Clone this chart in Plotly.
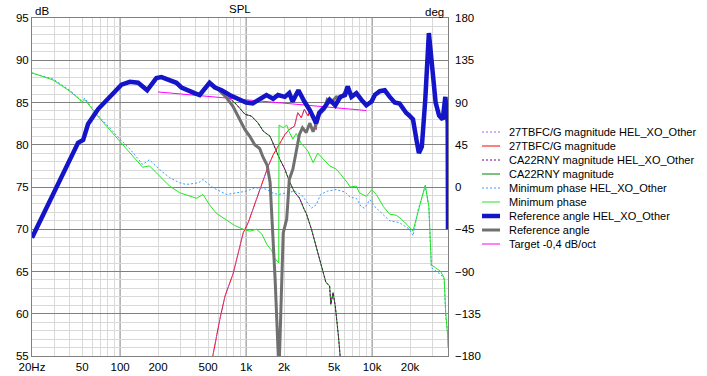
import plotly.graph_objects as go
import math

# ---------------- data ----------------
# Reference angle HEL_XO_Other (deg, right axis)
ref_xo_f = [20, 30.3, 46.4, 50.9, 55.7, 67, 82.8, 102.6, 119.5, 139, 164, 194, 213, 248, 280, 307, 356, 390, 428,
            470, 513, 566, 640, 740, 890, 1000, 1130, 1280, 1450, 1640, 1790, 2030, 2200, 2340, 2600, 2900, 3200,
            3600, 3800, 4200, 4600, 5100, 5600, 6100, 6400, 6850, 7500, 8200, 9000, 9900, 10500, 11500, 12600,
            13800, 15100, 16500, 18600, 19800, 21100, 22500, 23500, 24800, 26400, 28200, 30000, 31900, 34000,
            36300, 38100, 39200, 39800, 40000]
ref_xo_deg = [-54, -3, 47, 50, 67, 83, 96, 109, 112, 111, 103, 116, 117, 113, 111, 106, 103, 100, 98,
              105, 111, 106, 103, 98, 93, 90, 89, 93, 98, 94, 98, 96, 100, 91, 103, 91, 82,
              68, 79, 85, 93, 87, 96, 98, 107, 96, 100, 93, 87, 91, 98, 102, 103,
              96, 90, 89, 79, 76, 72, 50, 36, 43, 93, 164, 129, 90, 76,
              72, 96, 79, 68, -45]

# Reference angle (deg, right axis)
ref_f = [470, 513, 600, 700, 786, 890, 980, 1070, 1170, 1280, 1360, 1470, 1550, 1590, 1700, 1800, 1840,
         1970, 2100, 2160, 2200, 2350, 2500, 2650, 2800, 3000, 3200, 3400, 3600, 3800, 4200, 4400, 4700,
         5200, 5600, 5900, 6400]
ref_deg = [105, 111, 104, 95, 86, 72, 61, 54, 45, 41, 32, 23, 5, -24, -99, -180, -180,
           -49, -34, -10, 8, 19, 40, 56, 63, 58, 68, 59, 67, 77, 83, 93, 90,
           96, 95, 98, 107]

# Minimum phase HEL_XO_Other (deg, right axis)
mp_xo_f = [20, 29.4, 39.9, 48, 49.6, 52.6, 65, 82.7, 99.6, 119.6, 151, 171, 204, 247, 296, 335, 380, 420, 455,
           550, 700, 890, 1000, 1170, 1330, 1460, 1600, 1800, 2100, 2420, 2740, 3000, 3300, 3600, 3900, 4400,
           5200, 6100, 6700, 7500, 8200, 8700, 9600, 10500, 12300, 13800, 16500, 19800, 21100, 23200, 26400,
           28200, 29500, 35000, 37300, 38400, 40000]
mp_xo_deg = [121.5, 115, 103, 94, 92, 94.5, 78, 63, 51, 40.5, 24, 29, 19, 10, 4.5, 2.7, 3.6, 4.5, 8,
             -1, -8, -6, -4.5, -1, -1, -2.7, -6, -8, -6, -4.5, -8, -15, -22.5, -19, -8, -4.5,
             -2.7, -5.4, -11, -12, -21, -22.5, -13.5, -21, -30, -36, -38, -45, -52, -24, 1,
             -21, -86, -93, -98, -138, -158]

# Minimum phase (deg, right axis)
mp_f = [20, 29.4, 39.9, 48, 49.6, 52.6, 65, 82.7, 99.6, 119.6, 151, 171, 204, 247, 296, 356, 404, 455, 513,
        580, 700, 812, 950, 1070, 1210, 1330, 1460, 1600, 1690, 1815, 1825, 1970, 2100, 2200, 2350, 2500,
        2740, 2900, 3100, 3400, 3700, 4100, 4600, 5200, 5700, 6300, 6700, 7500, 7900, 9000, 9900, 10800,
        12300, 13800, 15500, 17000, 19200, 21100, 23200, 26400, 28200, 29500, 31900, 35000, 37300, 38400,
        39700, 40000]
mp_deg = [121.5, 114, 102, 93, 90, 93, 77, 61, 49.5, 37, 21, 22.5, 12, 1, -6, -10, -12, -8, -19,
          -28, -35, -41, -45, -47, -45, -50, -61, -68, -76, -81, 66, 63, 66, 58.5, 51, 57,
          46, 43, 38, 26, 36, 30, 22.5, 19, 12.6, 5.4, 0, 1, -6, -10, -3, -8,
          -21, -29, -30, -34, -41, -47, -26, 2, -21, -83, -86, -90, -97, -135,
          -158, -171]

# CA22RNY magnitude (dB, left axis)
woof_f = [470, 513, 600, 700, 740, 840, 980, 1100, 1240, 1370, 1550, 1690, 1850, 2030, 2200, 2420, 2650, 2900,
          3000, 3300, 3600, 3900, 4300, 4600, 4700, 4900, 5100, 5400, 5600, 5800]
woof_db = [86.7, 87.3, 86.4, 86.0, 85.5, 84.75, 83.6, 83.4, 82.6, 81.6, 81.0, 79.6, 78.3, 77.1, 75.7, 74.4, 73.7, 72.3,
           71.9, 70.0, 68.0, 66.0, 63.7, 63.3, 61.1, 62.5, 60.9, 57.4, 55.0, 52.0]

# 27TBFC/G magnitude (dB, left axis)
tw_f = [500, 544, 618, 680, 787, 870, 950, 1040, 1140, 1250, 1370, 1500, 1640, 1850, 2030, 2200, 2420, 2570,
        2740, 2900, 3100, 3200, 3400, 3600, 3700, 3900, 4200, 4600]
tw_db = [52.5, 55.0, 59.3, 62.1, 64.7, 67.2, 69.6, 70.8, 72.5, 74.3, 75.9, 77.5, 78.8, 80.2, 81.2, 81.8, 82.2, 83.8,
         83.2, 84.2, 83.4, 84.0, 83.0, 81.8, 83.4, 84.2, 84.6, 85.3]

# Target -0,4 dB/oct (dB, left axis)
target_f = [200, 9000]
target_db = [86.25, 84.05]

x_tickvals = [20, 50, 100, 200, 500, 1000, 2000, 5000, 10000, 20000]
x_ticktext = ["20Hz", "50", "100", "200", "500", "1k", "2k", "5k", "10k", "20k"]

# ---------------- figure ----------------
FONT = "Liberation Sans, Arial, sans-serif"
series = [
    ("27TBFC/G magnitude HEL_XO_Other", tw_f, tw_db, "y", "#a060f0", 1, "2px,2px"),
    ("27TBFC/G magnitude", tw_f, tw_db, "y", "#ff0000", 1, "solid"),
    ("CA22RNY magnitude HEL_XO_Other", woof_f, woof_db, "y", "#800080", 1, "2px,2px"),
    ("CA22RNY magnitude", woof_f, woof_db, "y", "#008000", 1, "solid"),
    ("Minimum phase HEL_XO_Other", mp_xo_f, mp_xo_deg, "y2", "#3c9cff", 1, "2px,2px"),
    ("Minimum phase", mp_f, mp_deg, "y2", "#22e622", 1, "solid"),
    ("Reference angle HEL_XO_Other", ref_xo_f, ref_xo_deg, "y2", "#1414c8", 4.5, "solid"),
    ("Reference angle", ref_f, ref_deg, "y2", "#707070", 3, "solid"),
    ("Target -0,4 dB/oct", target_f, target_db, "y", "#ff00ff", 1, "solid"),
]

draw_order = [3, 2, 1, 0, 4, 5, 7, 6, 8]

fig = go.Figure()
for idx in draw_order:
    name, fx, fy, ax, col, w, dash = series[idx]
    fig.add_trace(go.Scatter(x=fx, y=fy, mode="lines", name=name, yaxis=ax,
                             line=dict(color=col, width=w, dash=dash),
                             showlegend=False, hoverinfo="skip"))

L, R, T, B = 32, 259, 18, 20
W, H = 707, 376
pw, ph = W - L - R, H - T - B

def px2paper_x(px):
    return (px - L) / pw

def py2paper_y(py):
    return (H - B - py) / ph

shapes = []
for v in [100, 1000, 10000]:
    shapes.append(dict(type="line", xref="x", yref="paper", x0=v, x1=v, y0=0, y1=1,
                       line=dict(color="#808080", width=1), layer="between"))

annotations = []
for i, (name, fx, fy, ax, col, w, dash) in enumerate(series):
    yy = py2paper_y(132 + 14 * i)
    shapes.append(dict(type="line", xref="paper", yref="paper",
                       x0=px2paper_x(482), x1=px2paper_x(500), y0=yy, y1=yy,
                       line=dict(color=col, width=w, dash=dash)))
    annotations.append(dict(text=name, xref="paper", yref="paper", x=px2paper_x(507), y=yy,
                            xanchor="left", yanchor="middle", showarrow=False,
                            font=dict(family=FONT, size=11, color="#000000")))

annotations += [
    dict(text="SPL", xref="paper", yref="paper", x=px2paper_x(240), y=py2paper_y(9),
         xanchor="center", yanchor="middle", showarrow=False, font=dict(family=FONT, size=11.5, color="#000")),
    dict(text="dB", xref="paper", yref="paper", x=px2paper_x(33), y=py2paper_y(11),
         xanchor="left", yanchor="middle", showarrow=False, font=dict(family=FONT, size=11.5, color="#000")),
    dict(text="deg", xref="paper", yref="paper", x=px2paper_x(446), y=py2paper_y(12),
         xanchor="right", yanchor="middle", showarrow=False, font=dict(family=FONT, size=11.5, color="#000")),
]

minor_x = [m * 10 ** e for e in (1, 2, 3, 4) for m in range(2, 10) if 20 < m * 10 ** e <= 40000]

fig.update_layout(
    width=W, height=H, margin=dict(l=L, r=R, t=T, b=B, autoexpand=False),
    paper_bgcolor="white", plot_bgcolor="white",
    font=dict(family=FONT, size=11.5, color="#000"),
    showlegend=False,
    xaxis=dict(type="log", range=[math.log10(20), math.log10(40000)], automargin=False,
               tickvals=x_tickvals, ticktext=x_ticktext, showgrid=False, zeroline=False,
               showline=True, linecolor="#808080", mirror=True, ticks="",
               minor=dict(tickvals=minor_x, showgrid=True, gridcolor="#d9d9d9", gridwidth=1, ticks="")),
    yaxis=dict(range=[55, 95], tick0=55, dtick=5, showgrid=True, gridcolor="#808080", zeroline=False,
               showline=True, linecolor="#808080", mirror=True, ticks="", automargin=False,
               minor=dict(dtick=1, showgrid=True, gridcolor="#d9d9d9", ticks="")),
    yaxis2=dict(range=[-180, 180], tick0=-180, dtick=45, overlaying="y", side="right", automargin=False,
                showgrid=False, zeroline=False, ticks="", ticklabelstandoff=6, showline=False),
    shapes=shapes, annotations=annotations,
)

fig.write_html("out.html", config={"displayModeBar": False},
               post_script="document.body.style.margin='0px';document.body.style.overflow='hidden';")
